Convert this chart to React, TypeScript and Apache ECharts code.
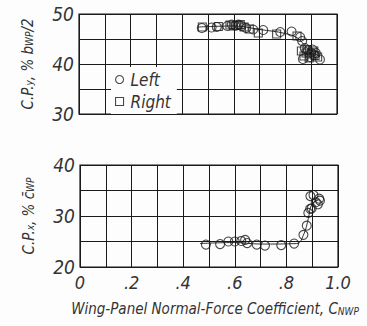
import React, { useEffect, useRef } from "react";
import * as echarts from "echarts";

const xTicks = ["0", ".2", ".4", ".6", ".8", "1.0"];

const leftCPy: [number, number][] = [
  [0.476, 47.2], [0.514, 47.3], [0.534, 47.4], [0.575, 47.6], [0.592, 47.9], [0.605, 47.7],
  [0.618, 47.9], [0.63, 47.6], [0.648, 47.2], [0.675, 46.9], [0.714, 46.8], [0.78, 46.4],
  [0.824, 46.5], [0.857, 45.4], [0.865, 44.6], [0.875, 43.2], [0.888, 42.7], [0.9, 42.3],
  [0.912, 41.8], [0.934, 40.9], [0.868, 41.0], [0.895, 41.4], [0.905, 42.9], [0.918, 42.2],
];

const rightCPy: [number, number][] = [
  [0.478, 47.4], [0.54, 47.5], [0.585, 47.8], [0.598, 47.6], [0.612, 47.7], [0.625, 47.9],
  [0.64, 47.4], [0.66, 47.0], [0.695, 46.2], [0.766, 46.0], [0.845, 45.6], [0.862, 42.6],
  [0.872, 41.6], [0.884, 42.9], [0.892, 41.2], [0.9, 42.0], [0.91, 42.6], [0.915, 41.7],
  [0.925, 41.4], [0.88, 42.2],
];

const leftCPx: [number, number][] = [
  [0.488, 24.4], [0.543, 24.5], [0.575, 25.0], [0.6, 25.0], [0.625, 25.1], [0.64, 25.3],
  [0.648, 24.7], [0.685, 24.4], [0.717, 24.2], [0.78, 24.3], [0.83, 24.6], [0.866, 26.3],
  [0.879, 28.1], [0.885, 30.6], [0.892, 31.4], [0.893, 33.9], [0.905, 34.1], [0.914, 32.7],
  [0.927, 33.4], [0.922, 32.3], [0.898, 31.5], [0.93, 33.0],
];

const fairCPy: [number, number][] = [
  [0.46, 47.4], [0.6, 47.6], [0.7, 46.9], [0.8, 46.1], [0.85, 45.1], [0.88, 43.4], [0.935, 41.4],
];

const fairCPx: [number, number][] = [
  [0.465, 24.6], [0.6, 24.8], [0.7, 24.5], [0.84, 24.6], [0.868, 26.5], [0.885, 29.5],
  [0.898, 32.2], [0.925, 33.2],
];

const FONT = "'Liberation Sans Narrow', 'DejaVu Sans Condensed', 'Liberation Sans', sans-serif";
const INK = "#1a1a1a";

export default function App() {
  const ref = useRef<HTMLDivElement>(null);
  useEffect(() => {
    document.body.style.margin = "0";
    const chart = echarts.init(ref.current!, null, { renderer: "svg" });
    const tickLabel = {
      fontFamily: FONT,
      fontStyle: "italic" as const,
      fontSize: 19,
      color: "#333",
    };
    const splitLine = { show: true, lineStyle: { color: INK, width: 1 } };
    const xBase = {
      type: "value" as const,
      min: 0,
      max: 1,
      interval: 0.1,
      axisLine: { show: false },
      axisTick: { show: false },
      splitLine,
    };
    const yBase = (min: number, max: number) => ({
      type: "value" as const,
      min,
      max,
      interval: 5,
      axisLine: { show: false },
      axisTick: { show: false },
      splitLine,
      axisLabel: {
        ...tickLabel,
        margin: 5,
        formatter: (v: number) => (v % 10 === 0 ? String(v) : ""),
      },
      nameLocation: "middle" as const,
      nameGap: 44,
      nameTextStyle: {
        fontFamily: FONT,
        fontStyle: "italic" as const,
        fontSize: 15,
        color: "#333",
        rich: {
          s: { fontFamily: FONT, fontStyle: "italic" as const, fontSize: 10, color: "#333", padding: [4, 0, 0, 0] },
        },
      },
    });
    const sym = { color: "rgba(255,255,255,0)", borderColor: INK, borderWidth: 1.1 };
    chart.setOption({
      animation: false,
      backgroundColor: "#fdfdfd",
      grid: [
        { left: 79, top: 14, width: 258, height: 100, show: true, borderColor: INK, borderWidth: 1.2, backgroundColor: "transparent" },
        { left: 80, top: 165, width: 258, height: 102, show: true, borderColor: INK, borderWidth: 1.2, backgroundColor: "transparent" },
      ],
      xAxis: [
        { ...xBase, gridIndex: 0, axisLabel: { show: false } },
        {
          ...xBase,
          gridIndex: 1,
          axisLabel: {
            ...tickLabel,
            fontSize: 18,
            margin: 6,
            formatter: (v: number) => {
              const i = Math.round(v * 10);
              return i % 2 === 0 ? xTicks[i / 2] : "";
            },
          },
          name: "Wing-Panel Normal-Force Coefficient, C{s|NWP}",
          nameLocation: "middle",
          nameGap: 34,
          nameTextStyle: {
            fontFamily: FONT,
            fontStyle: "italic",
            fontSize: 15,
            color: "#333",
            padding: [0, 0, 0, 12],
            rich: { s: { fontFamily: FONT, fontStyle: "italic", fontSize: 10, color: "#333", padding: [5, 0, 0, 0] } },
          },
        },
      ],
      yAxis: [
        { ...yBase(30, 50), gridIndex: 0, name: "C.P.{s|y}, % b{s|WP}/2" },
        { ...yBase(20, 40), gridIndex: 1, name: "C.P.{s|x}, % c̄{s|WP}" },
      ],
      legend: {
        orient: "vertical",
        left: 111,
        top: 67,
        itemGap: 5,
        itemWidth: 8,
        itemHeight: 8,
        padding: [4, 6, 4, 4],
        backgroundColor: "#fdfdfd",
        textStyle: { fontFamily: FONT, fontStyle: "italic", fontSize: 17, color: "#333", padding: [0, 0, 0, 2] },
        data: [
          { name: "Left", icon: "circle", itemStyle: sym },
          { name: "Right", icon: "rect", itemStyle: sym },
        ],
      },
      series: [
        {
          type: "line", xAxisIndex: 0, yAxisIndex: 0, data: fairCPy, smooth: 0.4, showSymbol: false,
          lineStyle: { color: INK, width: 0.9 }, silent: true, z: 1,
        },
        {
          type: "line", xAxisIndex: 1, yAxisIndex: 1, data: fairCPx, smooth: 0.4, showSymbol: false,
          lineStyle: { color: INK, width: 0.9 }, silent: true, z: 1,
        },
        {
          name: "Left", type: "scatter", xAxisIndex: 0, yAxisIndex: 0, data: leftCPy,
          symbol: "circle", symbolSize: 9, itemStyle: sym, z: 3,
        },
        {
          name: "Right", type: "scatter", xAxisIndex: 0, yAxisIndex: 0, data: rightCPy,
          symbol: "rect", symbolSize: 8, itemStyle: sym, z: 3,
        },
        {
          name: "Left", type: "scatter", xAxisIndex: 1, yAxisIndex: 1, data: leftCPx,
          symbol: "circle", symbolSize: 9, itemStyle: sym, z: 3,
        },
      ],
    });
    return () => chart.dispose();
  }, []);
  return <div ref={ref} style={{ width: 367, height: 326 }} />;
}
